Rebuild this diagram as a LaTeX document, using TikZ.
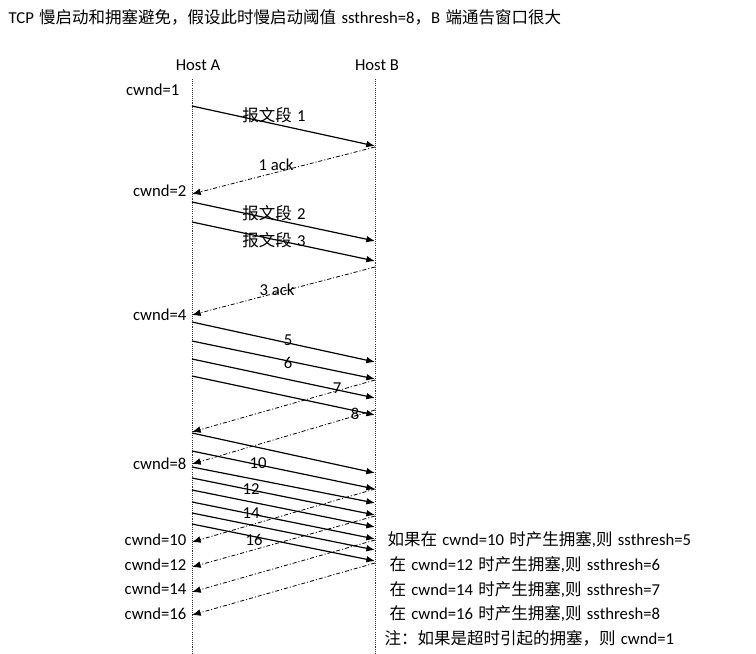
\documentclass[tikz,border=0pt]{standalone}
\usepackage{fontspec}
\setmainfont{Carlito}
\newfontfamily\cjk{Noto Sans CJK SC}[Scale=0.99]
\newcommand\sep{\hspace{4pt}}
\usetikzlibrary{arrows.meta,positioning}
\tikzset{
  lifeline/.style={black!80, line width=0.6pt, dash pattern=on 0.8pt off 0.8pt},
  segarrow/.style={-{Latex[length=6.5pt,width=5pt]}, line width=0.9pt},
  ackarrow/.style={-{Latex[length=6.5pt,width=5pt]}, line width=0.6pt, dash pattern=on 3pt off 1.5pt on 0.8pt off 1.5pt},
  host/.style={font=\fontsize{12.5}{14}\selectfont, inner sep=1pt},
  cwnd/.style={font=\fontsize{12.5}{14}\selectfont, anchor=east, inner sep=1pt},
  lbl/.style={font=\fontsize{12.5}{14}\selectfont, inner sep=1pt},
  note/.style={font=\fontsize{12.5}{14}\selectfont, anchor=west, inner sep=1pt}
}
\begin{document}
\begin{tikzpicture}[x=0.75pt, y=-0.75pt]
\useasboundingbox (0,0) rectangle (756,653);
% ---- title ----
\node[note] (title) at (7,17) {TCP\sep{\cjk 慢启动和拥塞避免，假设此时慢启动阈值}\sep ssthresh=8{\cjk ，}B\sep{\cjk 端通告窗口很大}};
% ---- hosts and lifelines ----
\node[host] (hostA) at (198,65) {Host A};
\node[host] (hostB) at (377,65) {Host B};
\coordinate (topA) at (192,79); \coordinate (botA) at (192,653);
\coordinate (topB) at (375,79); \coordinate (botB) at (375,653);
\draw[lifeline] (topA) -- (botA);
\draw[lifeline] (topB) -- (botB);
% ---- cwnd values at A ----
\node[cwnd] (cw1) at (181,90) {cwnd=1};
\node[cwnd] (cw2) at (188,191) {cwnd=2};
\node[cwnd] (cw4) at (188,315) {cwnd=4};
\node[cwnd] (cw8) at (188,464) {cwnd=8};
\node[cwnd] (cw10) at (188,540) {cwnd=10};
\node[cwnd] (cw12) at (188,565) {cwnd=12};
\node[cwnd] (cw14) at (188,589) {cwnd=14};
\node[cwnd] (cw16) at (188,614) {cwnd=16};
% ---- segments A -> B ----
\coordinate (s1a) at (192,106); \coordinate (s1b) at (375,146); \draw[segarrow] (s1a) -- (s1b);
\coordinate (s2a) at (192,202); \coordinate (s2b) at (375,241); \draw[segarrow] (s2a) -- (s2b);
\coordinate (s3a) at (192,222); \coordinate (s3b) at (375,261); \draw[segarrow] (s3a) -- (s3b);
\coordinate (s4a) at (192,322); \coordinate (s4b) at (375,362); \draw[segarrow] (s4a) -- (s4b);
\coordinate (s5a) at (192,341); \coordinate (s5b) at (375,379); \draw[segarrow] (s5a) -- (s5b);
\coordinate (s6a) at (192,359); \coordinate (s6b) at (375,398); \draw[segarrow] (s6a) -- (s6b);
\coordinate (s7a) at (192,376); \coordinate (s7b) at (375,415); \draw[segarrow] (s7a) -- (s7b);
\coordinate (s8a) at (192,433); \coordinate (s8b) at (375,473); \draw[segarrow] (s8a) -- (s8b);
\coordinate (s9a) at (192,451); \coordinate (s9b) at (375,489); \draw[segarrow] (s9a) -- (s9b);
\coordinate (s10a) at (192,467); \coordinate (s10b) at (375,503); \draw[segarrow] (s10a) -- (s10b);
\coordinate (s11a) at (192,478); \coordinate (s11b) at (375,515); \draw[segarrow] (s11a) -- (s11b);
\coordinate (s12a) at (192,490); \coordinate (s12b) at (375,527); \draw[segarrow] (s12a) -- (s12b);
\coordinate (s13a) at (192,502); \coordinate (s13b) at (375,539); \draw[segarrow] (s13a) -- (s13b);
\coordinate (s14a) at (192,513); \coordinate (s14b) at (375,550); \draw[segarrow] (s14a) -- (s14b);
\coordinate (s15a) at (192,524); \coordinate (s15b) at (375,561); \draw[segarrow] (s15a) -- (s15b);
% ---- acks B -> A ----
\coordinate (k1b) at (375,147); \coordinate (k1a) at (192,194); \draw[ackarrow] (k1b) -- (k1a);
\coordinate (k2b) at (375,267); \coordinate (k2a) at (192,315); \draw[ackarrow] (k2b) -- (k2a);
\coordinate (k3b) at (375,380); \coordinate (k3a) at (192,432); \draw[ackarrow] (k3b) -- (k3a);
\coordinate (k4b) at (375,410); \coordinate (k4a) at (192,464); \draw[ackarrow] (k4b) -- (k4a);
\coordinate (k5b) at (375,489); \coordinate (k5a) at (192,542); \draw[ackarrow] (k5b) -- (k5a);
\coordinate (k6b) at (375,516); \coordinate (k6a) at (192,567); \draw[ackarrow] (k6b) -- (k6a);
\coordinate (k7b) at (375,540); \coordinate (k7a) at (192,592); \draw[ackarrow] (k7b) -- (k7a);
\coordinate (k8b) at (375,563); \coordinate (k8a) at (192,615); \draw[ackarrow] (k8b) -- (k8a);
% ---- labels on the lines ----
\node[lbl] (l1) at (274,115) {{\cjk 报文段}\sep 1};
\node[lbl] (lk1) at (276,165) {1 ack};
\node[lbl] (l2) at (274,213) {{\cjk 报文段}\sep 2};
\node[lbl] (l3) at (274,240) {{\cjk 报文段}\sep 3};
\node[lbl] (lk3) at (277,290) {3 ack};
\node[lbl] (l5) at (288,340) {5};
\node[lbl] (l6) at (288,363) {6};
\node[lbl] (l7) at (337,388) {7};
\node[lbl] (l8) at (355,414) {8};
\node[lbl] (l10) at (258,463) {10};
\node[lbl] (l12) at (251,489) {12};
\node[lbl] (l14) at (251,513) {14};
\node[lbl] (l16) at (254,540) {16};
% ---- notes at B ----
\node[note] (n10) at (386,540) {{\cjk 如果在}\sep cwnd=10\sep{\cjk 时产生拥塞},{\cjk 则}\sep ssthresh=5};
\node[note] (n12) at (388,565) {{\cjk 在}\sep cwnd=12\sep{\cjk 时产生拥塞},{\cjk 则}\sep ssthresh=6};
\node[note] (n14) at (388,590) {{\cjk 在}\sep cwnd=14\sep{\cjk 时产生拥塞},{\cjk 则}\sep ssthresh=7};
\node[note] (n16) at (388,614) {{\cjk 在}\sep cwnd=16\sep{\cjk 时产生拥塞},{\cjk 则}\sep ssthresh=8};
\node[note] (nto) at (383,638) {{\cjk 注：如果是超时引起的拥塞，则}\sep cwnd=1};
\end{tikzpicture}
\end{document}
